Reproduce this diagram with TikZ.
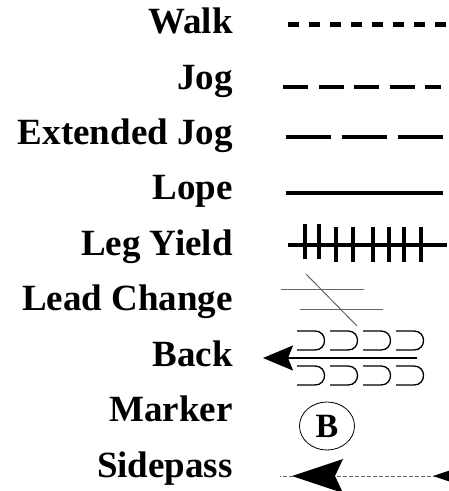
\documentclass[tikz,border=0pt]{standalone}
\usepackage{fontspec}
\setmainfont{Liberation Serif}
\usetikzlibrary{arrows.meta,shapes.geometric}
\begin{document}
\begin{tikzpicture}[x=1pt,y=-1pt,
  lbl/.style={anchor=base east,inner sep=0pt,font=\fontsize{37}{40}\selectfont\bfseries},
  thinline/.style={draw=black!60,line width=1pt},
  ushape/.style={draw=black,line width=1.3pt}]
\clip (0,0) rectangle (449,491);
\fill[white] (0,0) rectangle (449,491);
% labels
\node[lbl] (walk) at (233,33) {Walk};
\node[lbl] (jog) at (233,89) {Jog};
\node[lbl] (ejog) at (233,144) {Extended Jog};
\node[lbl] (lope) at (233,199) {Lope};
\node[lbl] (legy) at (233,255) {Leg Yield};
\node[lbl] (lead) at (233,310) {Lead Change};
\node[lbl] (back) at (233,366) {Back};
\node[lbl] (mark) at (233,421) {Marker};
\node[lbl] (side) at (233,477) {Sidepass};
% walk
\draw[line width=4.2pt,dash pattern=on 11pt off 10pt] (288,24.5) -- (447,24.5);
% jog
\draw[line width=3.6pt,dash pattern=on 25pt off 10.5pt] (283,87) -- (441,87);
% extended jog
\draw[line width=3.2pt,dash pattern=on 45pt off 11pt] (286,137) -- (443,137);
% lope
\draw[line width=3.2pt] (286,193) -- (443,193);
% leg yield
\draw[line width=3.2pt] (288,245) -- (447,245);
\foreach \x/\t/\b in {305/224/259,319/224/259,336/227/262,353/227/262,373/227/262,389/227/262,404/227/262,421/227/262}
  \draw[line width=3.2pt] (\x,\t) -- (\x,\b);
% lead change
\draw[thinline] (281,289) -- (364,289);
\draw[thinline] (300,309) -- (383,309);
\draw[thinline] (306,274) -- (357,326);
% back
\foreach \x in {297,330,363,396}{
  \draw[ushape] (\x,331) -- (\x+18,331) .. controls (\x+30.7,331) and (\x+30.7,350) .. (\x+18,350) -- (\x,350);
  \draw[ushape] (\x,366) -- (\x+18,366) .. controls (\x+30.7,366) and (\x+30.7,385) .. (\x+18,385) -- (\x,385);
}
\draw[line width=2pt,-{Stealth[length=30pt,width=25pt,inset=5pt]}] (417,358) -- (263,358);
% marker
\node[draw,ellipse,line width=0.8pt,minimum width=55pt,minimum height=48pt,inner sep=0pt,
  font=\fontsize{34}{36}\selectfont\bfseries] (bmark) at (327,426) {B};
% sidepass
\draw[black!60,line width=1pt,dash pattern=on 4pt off 2pt] (449,476) -- (280,476);
\fill[black] (292,476) -- (343,459) -- (335,476) -- (343,493) -- cycle;
\fill[black] (433,476) -- (484,459) -- (476,476) -- (484,493) -- cycle;
\end{tikzpicture}
\end{document}
